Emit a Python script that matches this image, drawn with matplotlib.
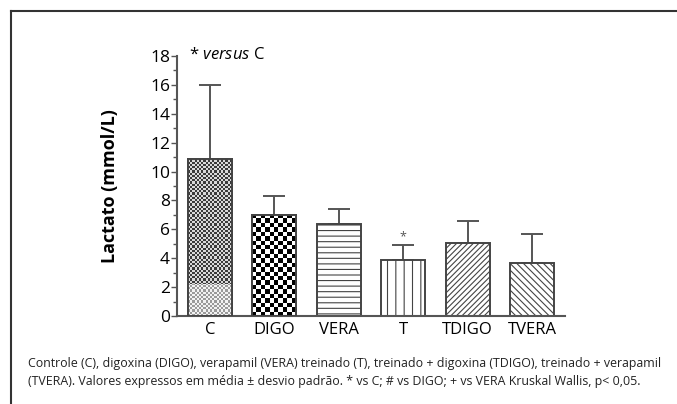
import numpy as np
import matplotlib
matplotlib.use('Agg')
from matplotlib import pyplot as plt
from matplotlib.lines import Line2D

plt.rcParams['font.family'] = ['Open Sans', 'DejaVu Sans']
plt.rcParams['mathtext.fontset'] = 'custom'
plt.rcParams['mathtext.it'] = 'Open Sans:italic'
plt.rcParams['hatch.linewidth'] = 0.8

# data
groups = ['C', 'DIGO', 'VERA', 'T', 'TDIGO', 'TVERA']
means = [10.9, 7.0, 6.4, 3.9, 5.05, 3.7]
err_top = [16.0, 8.3, 7.4, 4.9, 6.6, 5.7]
c_light_part = [2.2]       # lighter shaded bottom of C bar
star_groups = ['T']        # * vs C
caption = ['Controle (C), digoxina (DIGO), verapamil (VERA) treinado (T), treinado + digoxina (TDIGO), treinado + verapamil',
           '(TVERA). Valores expressos em média ± desvio padrão. * vs C; # vs DIGO; + vs VERA Kruskal Wallis, p< 0,05.']

hatches = [None, None, '---', '||', '//////', '\\\\\\\\\\']
edge = '#444444'
W = 0.68

def checker_fill(ax, bar, cell_px, top, colors, zorder):
    # checker texture clipped to a bar patch
    x0, w = bar.get_x(), bar.get_width()
    nx = int(round(w * 64.4 / cell_px))
    ny = int(np.ceil(top * 14.45 / cell_px))
    arr = (np.add.outer(np.arange(ny), np.arange(nx)) % 2).astype(float)
    cmap = matplotlib.colors.ListedColormap(colors)
    im = ax.imshow(arr, cmap=cmap, vmin=0, vmax=1, interpolation='nearest',
                   extent=[x0, x0 + w, 0, ny * cell_px / 14.45],
                   aspect='auto', zorder=zorder)
    im.set_clip_path(bar)

fig = plt.figure(figsize=(6.77, 4.04), dpi=100)
ax = fig.add_axes([177/677, 88/404, 388/677, 260/404])

x = np.arange(len(groups))
upper = np.array(err_top) - np.array(means)
ax.errorbar(x, means, yerr=[np.zeros(len(x)), upper], fmt='none', ecolor='#555555',
            elinewidth=1.4, capsize=8, capthick=1.4, zorder=1)
bars = ax.bar(x, means, width=W, color='white', edgecolor=edge, linewidth=1.4, zorder=2)
for b, h in zip(bars, hatches):
    if h:
        b.set_hatch(h)

# C: fine grey checker, lighter at the bottom
checker_fill(ax, bars[0], 2.2, means[0], ['#3a3a3a', '#d8d8d8'], 2.5)
low = ax.bar([0], c_light_part, width=W, color='none', linewidth=0, zorder=2.6)
checker_fill(ax, low[0], 2.2, c_light_part[0], ['#9a9a9a', '#f2f2f2'], 2.7)

# DIGO: coarse black/white checker
checker_fill(ax, bars[1], 4.4, means[1], ['black', 'white'], 2.5)

ax.bar(x[:2], means[:2], width=W, fill=False, edgecolor=edge, linewidth=1.4, zorder=4)

for g in star_groups:
    i = groups.index(g)
    ax.text(x[i], err_top[i] + 0.1, '*', ha='center', va='bottom', fontsize=9, color='#555555')

ax.text(-0.33, 18.05, '* $\\mathit{versus}$ C', fontsize=12, va='center', ha='left')

ax.set_xlim(-0.51, 5.51)
ax.set_ylim(0, 18)
ax.set_xticks(x)
ax.set_xticklabels(groups, fontsize=12)
ax.set_yticks(np.arange(0, 19, 2))
ax.set_yticks(np.arange(1, 18, 2), minor=True)
ax.tick_params(axis='y', which='major', labelsize=12.5, length=4, width=1, color='#555555', pad=1)
ax.tick_params(axis='y', which='minor', length=3, width=1, color='#555555')
ax.tick_params(axis='x', length=0, pad=4)
for s in ['top', 'right']:
    ax.spines[s].set_visible(False)
for s in ['left', 'bottom']:
    ax.spines[s].set_color('#555555')
    ax.spines[s].set_linewidth(1.5)
ax.set_ylabel('Lactato (mmol/L)', fontsize=13, fontweight='bold')
ax.yaxis.set_label_coords(-0.15, 0.5)

# frame lines
fig.add_artist(Line2D([11/677, 1], [1 - 11/404, 1 - 11/404], color='#333333', lw=1.5))
fig.add_artist(Line2D([11/677, 11/677], [0, 1 - 11/404], color='#333333', lw=1.5))

fig.text(28/677, 1 - 363/404, caption[0], fontsize=8.9, va='center', ha='left', color='#222222')
fig.text(28/677, 1 - 381/404, caption[1], fontsize=8.9, va='center', ha='left', color='#222222')

fig.savefig('out.png', dpi=100)
